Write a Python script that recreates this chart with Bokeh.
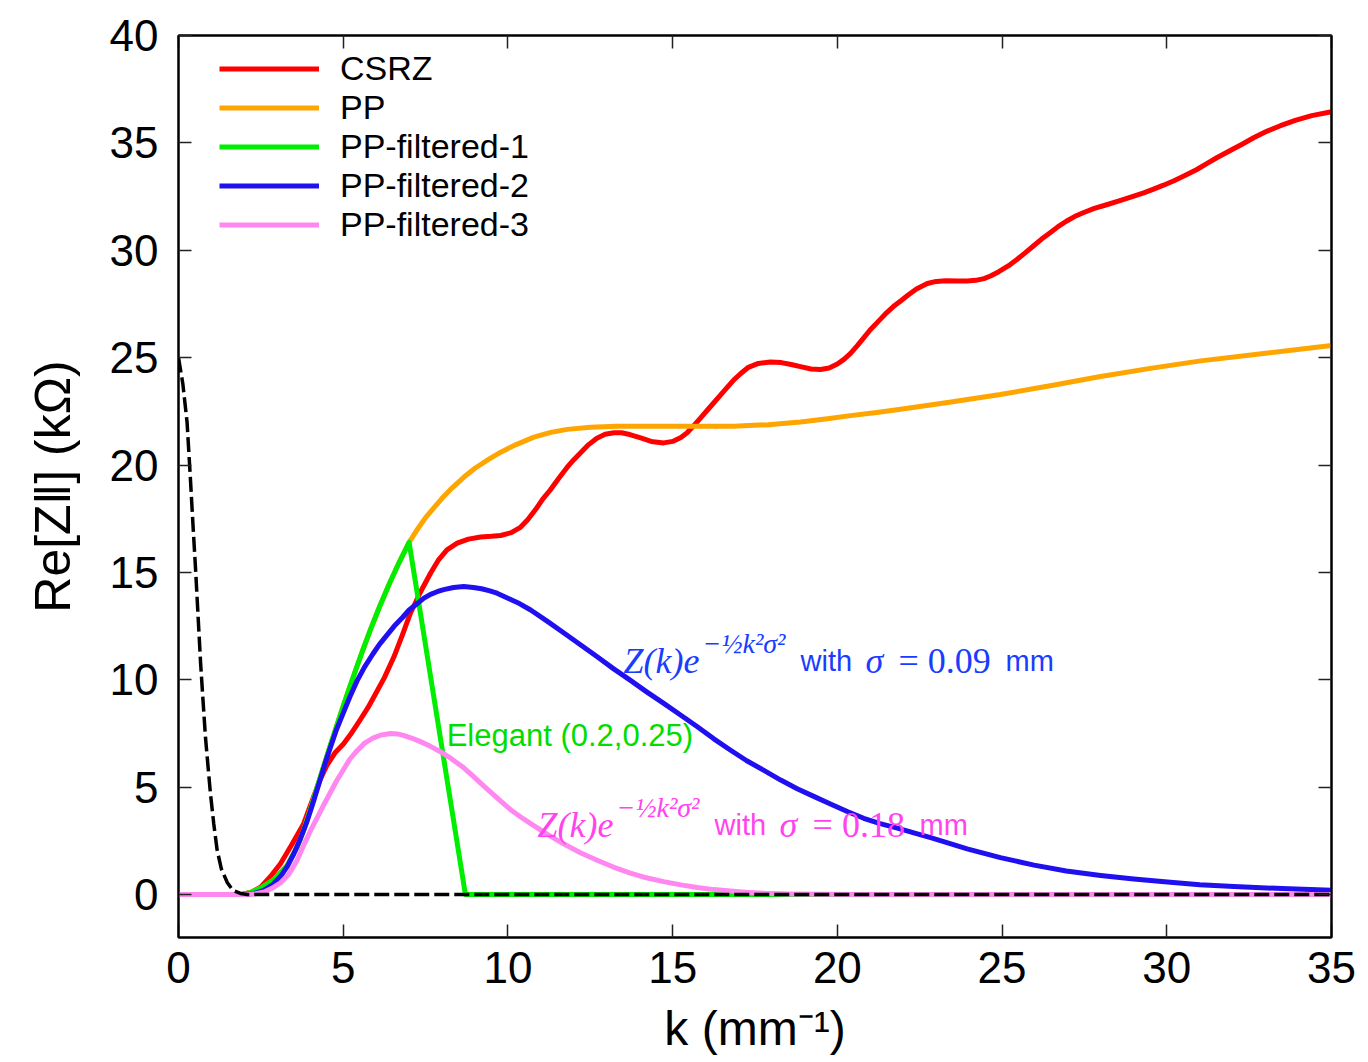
from bokeh.plotting import figure
from bokeh.models import Range1d, FixedTicker, LinearAxis, Legend, LegendItem, Label
from bokeh.embed import file_html
from bokeh.resources import INLINE

# ---------------- data ----------------
csrz_k = [0, 1.9, 2.2, 2.5, 2.8, 3.1, 3.45, 3.8, 4.1, 4.3, 4.5, 4.75, 5.0, 5.22, 5.5, 5.75,
          5.93, 6.25, 6.54, 6.8, 7.04, 7.35, 7.65, 7.9, 8.15, 8.46, 8.8, 9.17, 9.5, 9.78,
          10.1, 10.38, 10.6, 10.85, 11.05, 11.29, 11.55, 11.8, 12.0, 12.2, 12.45, 12.7,
          12.95, 13.22, 13.45, 13.7, 14.03, 14.35, 14.73, 15.0, 15.25, 15.44, 15.65, 15.85,
          16.05, 16.25, 16.45, 16.65, 16.85, 17.06, 17.3, 17.6, 17.97, 18.3, 18.6, 18.88,
          19.2, 19.49, 19.75, 20.0, 20.2, 20.4, 20.6, 20.8, 21.0, 21.25, 21.5, 21.7, 21.92,
          22.15, 22.4, 22.73, 23.0, 23.3, 23.65, 23.94, 24.2, 24.45, 24.65, 24.9, 25.2,
          25.46, 25.7, 25.95, 26.2, 26.47, 26.7, 26.95, 27.2, 27.48, 27.8, 28.2, 28.6, 29.0,
          29.3, 29.6, 29.9, 30.22, 30.55, 30.9, 31.2, 31.53, 31.9, 32.3, 32.65, 33.05,
          33.45, 33.9, 34.4, 35.0]
csrz_z = [0, 0, 0.1, 0.35, 0.85, 1.45, 2.35, 3.3, 4.55, 5.35, 6.0, 6.6, 7.0, 7.45, 8.1,
          8.7, 9.2, 10.1, 11.07, 12.1, 13.1, 14.1, 14.96, 15.6, 16.05, 16.36, 16.55, 16.65,
          16.68, 16.72, 16.85, 17.1, 17.45, 17.95, 18.4, 18.85, 19.4, 19.9, 20.25, 20.56,
          20.95, 21.25, 21.43, 21.5, 21.5, 21.42, 21.26, 21.1, 21.03, 21.1, 21.28, 21.5,
          21.85, 22.2, 22.55, 22.9, 23.25, 23.6, 23.95, 24.25, 24.55, 24.73, 24.8, 24.77,
          24.68, 24.58, 24.47, 24.45, 24.52, 24.7, 24.92, 25.2, 25.55, 25.92, 26.3, 26.7,
          27.1, 27.38, 27.64, 27.92, 28.2, 28.45, 28.55, 28.58, 28.57, 28.57, 28.6, 28.68,
          28.8, 29.0, 29.28, 29.58, 29.88, 30.2, 30.52, 30.83, 31.1, 31.35, 31.57, 31.76,
          31.95, 32.13, 32.32, 32.52, 32.67, 32.85, 33.03, 33.24, 33.48, 33.75, 34.02,
          34.32, 34.62, 34.95, 35.25, 35.55, 35.8, 36.05, 36.27, 36.45]

pp_k = [0, 1.9, 2.2, 2.5, 2.9, 3.3, 3.6, 3.8, 4.0, 4.15, 4.31, 4.6, 4.92, 5.15, 5.4, 5.6,
        5.83, 6.1, 6.4, 6.7, 7.0, 7.25, 7.5, 7.75, 8.0, 8.25, 8.5, 8.75, 9.0, 9.4, 9.78,
        10.25, 10.79, 11.3, 11.8, 12.5, 13.32, 15.0, 16.86, 17.9, 18.88, 19.7, 20.4, 21.2,
        21.92, 23.4, 24.95, 26.5, 27.99, 29.5, 31.03, 33.0, 35.0]
pp_z = [0, 0, 0.1, 0.3, 0.7, 1.35, 2.2, 3.0, 3.95, 4.7, 5.5, 6.9, 8.4, 9.45, 10.55, 11.4,
        12.35, 13.39, 14.47, 15.47, 16.4, 17.0, 17.55, 18.0, 18.45, 18.85, 19.2, 19.55,
        19.85, 20.25, 20.6, 20.95, 21.3, 21.52, 21.66, 21.76, 21.8, 21.8, 21.8, 21.88, 22.0,
        22.15, 22.3, 22.45, 22.6, 22.92, 23.28, 23.7, 24.12, 24.5, 24.85, 25.2, 25.57]

f1_k = [0, 1.9, 2.2, 2.5, 2.9, 3.3, 3.6, 3.8, 4.0, 4.15, 4.31, 4.6, 4.92, 5.15, 5.4, 5.6,
        5.83, 6.1, 6.4, 6.7, 7.0, 8.71, 35.0]
f1_z = [0, 0, 0.1, 0.3, 0.7, 1.35, 2.2, 3.0, 3.95, 4.7, 5.5, 6.9, 8.4, 9.45, 10.55, 11.4,
        12.35, 13.39, 14.47, 15.47, 16.4, 0, 0]

f2_k = [0, 2.0, 2.3, 2.59, 2.85, 3.1, 3.3, 3.5, 3.7, 3.9, 4.1, 4.3, 4.45, 4.61, 4.8, 5.0,
        5.2, 5.42, 5.65, 5.9, 6.1, 6.34, 6.55, 6.8, 7.0, 7.25, 7.45, 7.65, 7.85, 8.05, 8.35,
        8.66, 8.95, 9.2, 9.45, 9.67, 10.0, 10.35, 10.69, 11.2, 11.7, 12.2, 12.71, 13.2,
        13.72, 14.2, 14.73, 15.25, 15.75, 16.25, 16.76, 17.25, 17.77, 18.28, 18.78, 19.3,
        19.79, 20.3, 20.8, 21.3, 21.85, 22.35, 22.83, 23.4, 23.94, 24.95, 25.97, 26.95,
        27.99, 29.0, 30.02, 31.0, 32.04, 33.5, 35.0]
f2_z = [0, 0, 0.05, 0.2, 0.45, 0.85, 1.3, 1.9, 2.6, 3.4, 4.35, 5.35, 6.1, 6.85, 7.7, 8.45,
        9.2, 9.95, 10.6, 11.2, 11.65, 12.1, 12.5, 12.9, 13.25, 13.55, 13.8, 13.98, 14.1,
        14.2, 14.3, 14.34, 14.3, 14.24, 14.14, 14.03, 13.8, 13.55, 13.25, 12.72, 12.18,
        11.63, 11.07, 10.52, 9.97, 9.45, 8.9, 8.35, 7.81, 7.25, 6.72, 6.23, 5.78, 5.33,
        4.93, 4.56, 4.22, 3.87, 3.55, 3.3, 3.08, 2.86, 2.65, 2.38, 2.13, 1.72, 1.37, 1.1,
        0.89, 0.72, 0.58, 0.46, 0.37, 0.28, 0.2]

f3_k = [0, 2.0, 2.3, 2.6, 2.85, 3.1, 3.35, 3.6, 3.8, 4.0, 4.2, 4.4, 4.61, 4.8, 5.0, 5.2,
        5.42, 5.65, 5.9, 6.15, 6.44, 6.65, 6.85, 7.05, 7.25, 7.45, 7.65, 7.95, 8.26, 8.66,
        8.95, 9.27, 9.67, 10.08, 10.4, 10.69, 11.2, 11.7, 12.2, 12.71, 13.2, 13.72, 14.2,
        14.73, 15.25, 15.75, 16.25, 16.76, 17.3, 17.77, 18.5, 19.5, 20.5, 35.0]
f3_z = [0, 0, 0.02, 0.12, 0.3, 0.55, 0.95, 1.6, 2.3, 2.95, 3.55, 4.15, 4.75, 5.3, 5.8, 6.3,
        6.7, 7.05, 7.28, 7.43, 7.5, 7.48, 7.4, 7.3, 7.18, 7.05, 6.9, 6.65, 6.35, 5.9,
        5.5, 5.05, 4.5, 3.95, 3.6, 3.3, 2.8, 2.35, 1.95, 1.6, 1.28, 1.0, 0.78,
        0.6, 0.45, 0.33, 0.23, 0.16, 0.1, 0.06, 0.03, 0.01, 0, 0]

dash_k = [0, 0.13, 0.26, 0.36, 0.44, 0.52, 0.6, 0.67, 0.75, 0.82, 0.9, 0.97, 1.07, 1.17,
          1.3, 1.48, 1.65, 1.88, 2.1, 35.0]
dash_z = [25.0, 23.8, 22.0, 19.4, 17.2, 15.1, 12.8, 10.8, 8.9, 7.3, 5.9, 4.7, 3.3, 2.1,
          1.2, 0.56, 0.2, 0.05, 0, 0]

x_ticks = [0, 5, 10, 15, 20, 25, 30, 35]
y_ticks = [0, 5, 10, 15, 20, 25, 30, 35, 40]

series_names = ["CSRZ", "PP", "PP-filtered-1", "PP-filtered-2", "PP-filtered-3"]
series_colors = ["#ff0000", "#ffa500", "#00ee00", "#2010f0", "#ff88f0"]

# annotation anchors (k, Z) of text baselines
ann_blue = (13.51, 10.87)
ann_pink = (10.90, 3.22)
ann_green = (8.14, 7.42)

# ---------------- figure ----------------
W, H = 1368, 1062
BL, BR, BT, BB = 178, 37, 35, 125
p = figure(width=W, height=H, output_backend="svg", toolbar_location=None,
           x_range=Range1d(0, 35), y_range=Range1d(-2, 40),
           min_border_left=BL, min_border_right=BR, min_border_top=BT, min_border_bottom=BB,
           background_fill_color="white", border_fill_color="white")
p.xgrid.visible = False
p.ygrid.visible = False
p.outline_line_color = "black"
p.outline_line_width = 2

SANS = "Liberation Sans"
SERIF = "Liberation Serif"

def style_axis(ax, ticks, show_labels):
    ax.ticker = FixedTicker(ticks=ticks)
    ax.axis_line_color = "black"
    ax.axis_line_width = 2
    ax.major_tick_in = 13
    ax.major_tick_out = 0
    ax.major_tick_line_color = "#222222"
    ax.major_tick_line_width = 1.5
    ax.minor_tick_line_color = None
    if show_labels:
        ax.major_label_text_font = SANS
        ax.major_label_text_font_size = "44px"
        ax.major_label_text_color = "black"
    else:
        ax.major_label_overrides = {t: "" for t in ticks}
        ax.major_label_text_font_size = "8px"
        ax.major_label_standoff = 0

xa = p.xaxis[0]
ya = p.yaxis[0]
style_axis(xa, x_ticks, True)
style_axis(ya, y_ticks, True)
xa.major_label_standoff = 14
ya.major_label_standoff = 20
xa.axis_label = "k (mm\u207b\u00b9)"
ya.axis_label = "Re[Z\u2016] (k\u03a9)"
for ax in (xa, ya):
    ax.axis_label_text_font = SANS
    ax.axis_label_text_font_style = "normal"
    ax.axis_label_text_color = "black"
xa.axis_label_text_font_size = "48px"
ya.axis_label_text_font_size = "50px"
xa.axis_label_standoff = 16
ya.axis_label_standoff = 26

top_ax = LinearAxis()
right_ax = LinearAxis()
style_axis(top_ax, x_ticks, False)
style_axis(right_ax, y_ticks, False)
p.add_layout(top_ax, "above")
p.add_layout(right_ax, "right")

# ---------------- lines ----------------
LW = 5
r_csrz = p.line(csrz_k, csrz_z, line_color=series_colors[0], line_width=LW, line_join="round")
r_pp = p.line(pp_k, pp_z, line_color=series_colors[1], line_width=LW, line_join="round")
r_f1 = p.line(f1_k, f1_z, line_color=series_colors[2], line_width=LW, line_join="round")
r_f2 = p.line(f2_k, f2_z, line_color=series_colors[3], line_width=LW, line_join="round")
r_f3 = p.line(f3_k, f3_z, line_color=series_colors[4], line_width=LW, line_join="round")
p.line(dash_k, dash_z, line_color="black", line_width=3.5, line_dash="15 5")

renderers = [r_csrz, r_pp, r_f1, r_f2, r_f3]
items = [LegendItem(label=n, renderers=[r]) for n, r in zip(series_names, renderers)]

frame_h = H - BT - BB
row_h = 39
leg_h = row_h * len(items)
leg_top_offset = 13.5
legend = Legend(items=items, location=(41, frame_h - leg_top_offset - leg_h),
                padding=0, margin=0, spacing=0,
                glyph_width=100, glyph_height=row_h, label_height=row_h,
                label_standoff=21,
                label_text_font=SANS, label_text_font_size="34px", label_text_color="black",
                background_fill_alpha=0, border_line_alpha=0)
p.add_layout(legend)

# ---------------- annotations ----------------
def formula(anchor, color, sigma_txt):
    x, y = anchor
    pieces = [
        ("Z(k)e", 0, 0, SERIF, "36px", "italic"),
        ("\u2212\u00bdk\u00b2\u03c3\u00b2", 79, 18, SERIF, "28px", "italic"),
        ("with", 177, 0, SANS, "29px", "normal"),
        ("\u03c3", 242, 0, SERIF, "36px", "italic"),
        ("= " + sigma_txt, 275, 0, SERIF, "36px", "normal"),
        ("mm", 382, 0, SANS, "29px", "normal"),
    ]
    for txt, dx, dy, font, size, style in pieces:
        p.add_layout(Label(x=x, y=y, x_offset=dx, y_offset=dy, text=txt,
                           text_font=font, text_font_size=size, text_font_style=style,
                           text_color=color, text_baseline="alphabetic", text_align="left"))

formula(ann_blue, "#1a3cff", "0.09")
formula(ann_pink, "#ff44ee", "0.18")
p.add_layout(Label(x=ann_green[0], y=ann_green[1], text="Elegant (0.2,0.25)",
                   text_font=SANS, text_font_size="31px", text_color="#00dd00",
                   text_baseline="alphabetic", text_align="left"))

open("out.html", "w").write(file_html(p, INLINE))
